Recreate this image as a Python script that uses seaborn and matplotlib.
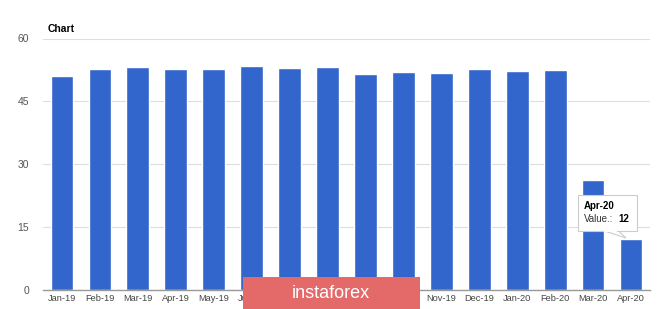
import matplotlib
matplotlib.use("Agg")
import matplotlib.pyplot as plt
import seaborn as sns
import pandas as pd
from matplotlib.patches import FancyBboxPatch, Polygon

months = ["Jan-19", "Feb-19", "Mar-19", "Apr-19", "May-19", "Jun-19", "Jul-19", "Aug-19",
          "Sep-19", "Oct-19", "Nov-19", "Dec-19", "Jan-20", "Feb-20", "Mar-20", "Apr-20"]
values = [51.1, 52.7, 53.2, 52.7, 52.7, 53.5, 53.0, 53.3,
          51.5, 52.0, 51.8, 52.7, 52.3, 52.5, 26.2, 12.0]
yticks = [0, 15, 30, 45, 60]

sns.set_theme(style="white")
plt.rcParams['font.family'] = ['Liberation Sans', 'DejaVu Sans']

df = pd.DataFrame({"month": months, "value": values})

fig = plt.figure(figsize=(6.65, 3.09), dpi=100)
ax = fig.add_axes([43/665, 1 - 289.5/309, (650-43)/665, (289.5-38.5)/309])

sns.barplot(data=df, x="month", y="value", color="#3366CC", saturation=1,
            width=0.6, ax=ax, zorder=3)

ax.set_xlim(-0.5, len(months) - 0.5)
ax.set_ylim(0, 60)
ax.set_yticks(yticks)
ax.set_yticklabels([str(t) for t in yticks], fontsize=7.5, color="#555555")
ax.tick_params(axis='x', labelsize=6.7, colors="#444444", length=0, pad=3)
ax.tick_params(axis='y', length=0, pad=10)
ax.set_xlabel("")
ax.set_ylabel("")
for s in ["top", "right", "left"]:
    ax.spines[s].set_visible(False)
ax.spines["bottom"].set_color("#999999")
ax.spines["bottom"].set_linewidth(1)
ax.spines["bottom"].set_zorder(4)
ax.yaxis.grid(True, color="#dddddd", linewidth=0.8, zorder=0)
ax.set_axisbelow(True)

fig.text(48/665, 1 - 29/309, "Chart", fontsize=7.5, fontweight="bold", color="#000000",
         va="center", ha="left")

# tooltip
def fy(p):
    return 1 - p/309
tail = Polygon([(603/665, fy(230.5)), (618/665, fy(230.5)), (626/665, fy(238))],
               closed=True, transform=fig.transFigure, facecolor="white",
               edgecolor="#cccccc", linewidth=0.8, zorder=10)
fig.patches.append(tail)
tt = FancyBboxPatch((578/665, fy(231)), 59/665, 36/309, boxstyle="square,pad=0",
                    transform=fig.transFigure, facecolor="white", edgecolor="#cccccc",
                    linewidth=0.8, zorder=10)
fig.patches.append(tt)
cover = Polygon([(604/665, fy(230.8)), (617/665, fy(230.8)), (617/665, fy(231.6)), (604/665, fy(231.6))],
                closed=True, transform=fig.transFigure, facecolor="white",
                edgecolor="none", zorder=10.5)
fig.patches.append(cover)
fig.text(584/665, fy(206), "Apr-20", fontsize=7, fontweight="bold", color="#000000",
         va="center", ha="left", zorder=11)
fig.text(584/665, fy(219), "Value.:", fontsize=7, color="#333333",
         va="center", ha="left", zorder=11)
fig.text(618/665, fy(219), "12", fontsize=7, fontweight="bold", color="#000000",
         va="center", ha="left", zorder=11)

# watermark
wm = FancyBboxPatch((243/665, 0), 177/665, 32/309, boxstyle="square,pad=0",
                    transform=fig.transFigure, facecolor="#e46a6a", edgecolor="none",
                    zorder=10)
fig.patches.append(wm)
fig.text(331/665, 16/309, "instaforex", fontsize=13, color="white",
         va="center", ha="center", zorder=11)

fig.savefig("out.png", dpi=100)
